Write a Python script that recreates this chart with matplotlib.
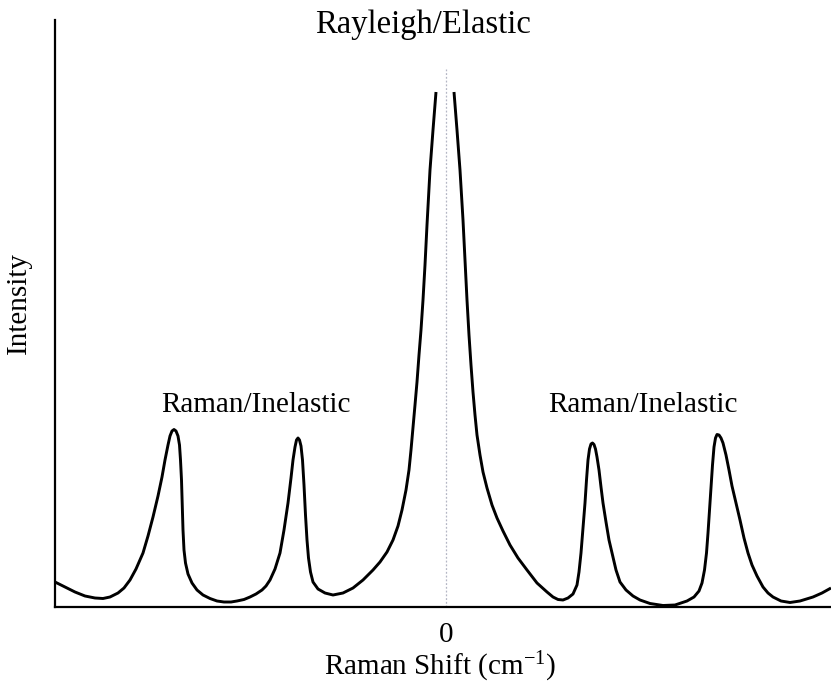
import numpy as np
import matplotlib
matplotlib.use('Agg')
import matplotlib.pyplot as plt

plt.rcParams['font.family'] = ['Liberation Serif', 'DejaVu Serif']
plt.rcParams['mathtext.fontset'] = 'custom'
plt.rcParams['mathtext.rm'] = 'Liberation Serif'
plt.rcParams['mathtext.default'] = 'regular'

# spectrum: shift (arbitrary units, 0 = elastic line)
# and intensity (arbitrary units). NaN marks where the Rayleigh peak runs off.
shift = [
    -391, -381, -371, -361, -351, -343, -336, -328, -322, -316, -310, -303,
    -298, -293, -288, -284, -281, -278, -276, -274, -272, -270, -268, -266.5,
    -265.5, -264.5, -263.7, -263, -262, -260.5, -258, -254, -249, -243, -236,
    -229, -222, -215, -209, -202, -196, -190, -184, -180, -176, -171, -166,
    -162, -158, -155, -153, -151, -149.5, -148, -146.5, -145, -143.5, -142,
    -140.5, -139, -137.5, -135.5, -133, -128, -121, -113, -103, -93, -83,
    -73, -66, -59, -53, -48, -44, -40, -37, -35, -33, -31, -29, -27, -25,
    -23, -21, -19, -16, -13, -10,
    np.nan,
    8, 11, 14, 17, 19, 21, 23, 25, 27, 29, 31, 34, 37, 41, 46, 51, 57, 64,
    72, 81, 91, 101, 107, 112, 117, 122, 127, 131, 133, 135, 137, 139,
    140.5, 142, 143.5, 145, 146.5, 148, 149.5, 151, 153, 155, 157, 160, 163,
    166, 170, 174, 180, 187, 194, 204, 217, 229, 241, 248, 253, 256, 258.5,
    260.5, 262, 263.5, 265, 266.5, 268, 269.5, 271, 273, 275, 277, 280, 283,
    286, 290, 294, 298, 302, 306, 311, 317, 322, 327, 335, 344, 354, 367,
    376, 385,
]
intensity = [
    24.5, 19.5, 14.5, 10.5, 8.5, 8, 9.5, 13.5, 18.5, 26.5, 37.5, 53.5,
    70.5, 89.5, 110.5, 129.5, 146.5, 161.5, 170.5, 175.5, 177, 175.5, 170.5,
    161.5, 146.5, 126.5, 101.5, 76.5, 56.5, 43.5, 32.5, 23.5, 16.5, 11.5, 8,
    5.5, 4.5, 4.5, 5.5, 7, 9.5, 12.5, 16.5, 20.5, 26.5, 37.5, 53.5,
    76.5, 103.5, 128.5, 146.5, 159.5, 166.5, 168.5, 166.5, 160.5, 146.5,
    121.5, 91.5, 66.5, 48.5, 34.5, 24.5, 17.5, 13.5, 11.5, 13.5, 18.5, 26.5,
    36.5, 44.5, 54.5, 66.5, 80.5, 96.5, 116.5, 136.5, 156.5, 178.5, 201.5,
    224.5, 251.5, 276.5, 306.5, 341.5, 381.5, 436.5, 476.5, 514.5,
    np.nan,
    514.5, 476.5, 436.5, 386.5, 346.5, 306.5, 271.5, 241.5, 214.5, 191.5,
    171.5, 151.5, 134.5, 118.5, 101.5, 88.5, 75.5, 61.5, 48.5, 36.5, 23.5,
    14.5, 9.5, 7, 6.5, 8.5, 12.5, 21.5, 34.5, 53.5, 78.5, 103.5, 126.5,
    146.5, 157.5, 162.5, 163.5, 162, 157.5, 149.5, 136.5, 119.5, 103.5,
    84.5, 66.5, 53.5, 36.5, 24.5, 16.5, 10.5, 6.5, 3, 1, 1.5, 5.5, 9.5,
    15.5, 23.5, 36.5, 53.5, 73.5, 96.5, 118.5, 141.5, 159.5, 168.5, 172,
    171.5, 168.5, 163.5, 151.5, 136.5, 120.5, 103.5, 86.5, 68.5, 53.5, 41.5,
    30.5, 19.5, 13.5, 9.5, 5.5, 4, 5.5, 9.5, 13.5, 18.5,
]

x_range = (-391, 385)
y_range = (0, 586.5)
elastic_line_top = 538

tick_pos = [0]
tick_text = ['0']

labels = ['Rayleigh/Elastic', 'Raman/Inelastic', 'Raman/Inelastic']
label_x = [-23, -190, 197]
label_y = [574, 194, 194]
label_size = [23.5, 21, 21]

fig = plt.figure(figsize=(8.31, 6.83), dpi=100)
ax = fig.add_axes([55 / 831, 76.5 / 683, 776 / 831, 586.5 / 683])

ax.plot(shift, intensity, color='black', lw=2.1, solid_joinstyle='round',
        solid_capstyle='butt', clip_on=False)
ax.axvline(0, ymax=elastic_line_top / y_range[1], color='#b4b6c4', lw=0.9,
           ls=(0, (1.5, 1.5)))

for txt, tx, ty, fs in zip(labels, label_x, label_y, label_size):
    ax.text(tx, ty, txt, ha='center', va='baseline', fontsize=fs)

ax.set_xlim(*x_range)
ax.set_ylim(*y_range)
ax.set_xticks(tick_pos)
ax.set_xticklabels(tick_text, fontsize=21)
ax.set_yticks([])
ax.tick_params(axis='x', length=0, pad=11)

for side in ['top', 'right']:
    ax.spines[side].set_visible(False)
for side in ['left', 'bottom']:
    ax.spines[side].set_linewidth(1.6)
    ax.spines[side].set_color('black')

ax.set_xlabel('Raman Shift (cm$^{-1}$)', fontsize=21)
ax.xaxis.label.set_va('center')
ax.xaxis.set_label_coords(0.496, -0.103)
ax.set_ylabel('Intensity', fontsize=21)
ax.yaxis.label.set_va('center')
ax.yaxis.set_label_coords(-0.046, 0.5175)

fig.savefig('out.png', dpi=100)
